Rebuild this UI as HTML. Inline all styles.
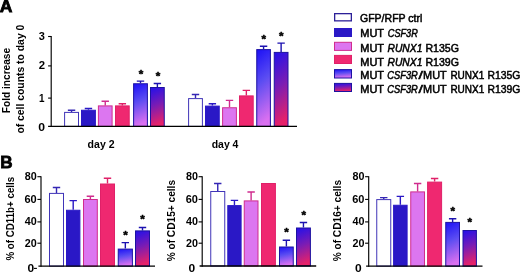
<!DOCTYPE html>
<html><head><meta charset="utf-8"><title>Figure</title>
<style>
html,body{margin:0;padding:0;background:#fff;}
svg{display:block;filter:blur(0.35px);}
text{font-family:"Liberation Sans",sans-serif;fill:#000;}
.b{font-weight:bold;}
.i{font-style:italic;}
.star{font-weight:bold;font-size:11.6px;stroke:#000;stroke-width:0.55px;stroke-linejoin:round;}
.lg{stroke:#000;stroke-width:0.5px;}
.bs{stroke:#000;stroke-width:0.8px;font-weight:bold}
</style></head><body>
<svg width="520" height="272" viewBox="0 0 520 272">
<defs>
<linearGradient id="g5" x1="0" y1="0" x2="0.15" y2="1">
<stop offset="0" stop-color="#1c10f6"/><stop offset="0.45" stop-color="#5a4cf2"/><stop offset="1" stop-color="#da70f0"/></linearGradient>
<linearGradient id="g6" x1="0" y1="0" x2="0.15" y2="1">
<stop offset="0" stop-color="#2210ea"/><stop offset="0.5" stop-color="#7a1cb4"/><stop offset="1" stop-color="#e6226a"/></linearGradient>
</defs>
<rect width="520" height="272" fill="#fff"/>

<path d="M71.55 111.90V110.30M67.85 110.30H75.25" stroke="#3426b4" stroke-width="1.4" fill="none"/>
<rect x="64.60" y="112.40" width="13.90" height="14.00" fill="#ffffff" stroke="#4034b8" stroke-width="1.0"/>
<path d="M88.45 109.75V108.50M84.75 108.50H92.15" stroke="#2a18c6" stroke-width="1.4" fill="none"/>
<rect x="81.50" y="110.25" width="13.90" height="16.15" fill="#2a18c6" stroke="#2a18c6" stroke-width="1.0"/>
<path d="M105.25 105.40V101.25M101.55 101.25H108.95" stroke="#d02c8e" stroke-width="1.4" fill="none"/>
<rect x="98.40" y="105.90" width="13.70" height="20.50" fill="#dc76f0" stroke="#d02c8e" stroke-width="1.0"/>
<path d="M122.35 105.40V103.75M118.65 103.75H126.05" stroke="#e02068" stroke-width="1.4" fill="none"/>
<rect x="115.50" y="105.90" width="13.70" height="20.50" fill="#ef2870" stroke="#e02068" stroke-width="1.0"/>
<path d="M140.50 83.25V81.10M136.80 81.10H144.20" stroke="#1c12b0" stroke-width="1.4" fill="none"/>
<rect x="133.60" y="83.75" width="13.80" height="42.65" fill="url(#g5)" stroke="#1c12a4" stroke-width="1.0"/>
<text x="141.00" y="77.95" class="star" text-anchor="middle">*</text>
<path d="M157.38 87.00V83.50M153.68 83.50H161.07" stroke="#1c12b0" stroke-width="1.4" fill="none"/>
<rect x="150.50" y="87.50" width="13.75" height="38.90" fill="url(#g6)" stroke="#1c12a0" stroke-width="1.0"/>
<text x="158.10" y="80.30" class="star" text-anchor="middle">*</text>
<path d="M195.50 98.10V94.50M191.80 94.50H199.20" stroke="#3426b4" stroke-width="1.4" fill="none"/>
<rect x="188.60" y="98.60" width="13.80" height="27.80" fill="#ffffff" stroke="#4034b8" stroke-width="1.0"/>
<path d="M212.38 105.60V103.75M208.68 103.75H216.07" stroke="#2a18c6" stroke-width="1.4" fill="none"/>
<rect x="205.50" y="106.10" width="13.75" height="20.30" fill="#2a18c6" stroke="#2a18c6" stroke-width="1.0"/>
<path d="M229.50 107.25V100.40M225.80 100.40H233.20" stroke="#d02c8e" stroke-width="1.4" fill="none"/>
<rect x="222.60" y="107.75" width="13.80" height="18.65" fill="#dc76f0" stroke="#d02c8e" stroke-width="1.0"/>
<path d="M246.35 95.40V90.40M242.65 90.40H250.05" stroke="#e02068" stroke-width="1.4" fill="none"/>
<rect x="239.50" y="95.90" width="13.70" height="30.50" fill="#ef2870" stroke="#e02068" stroke-width="1.0"/>
<path d="M263.57 49.10V46.25M259.88 46.25H267.27" stroke="#1c12b0" stroke-width="1.4" fill="none"/>
<rect x="256.75" y="49.60" width="13.65" height="76.80" fill="url(#g5)" stroke="#1c12a4" stroke-width="1.0"/>
<text x="263.75" y="43.45" class="star" text-anchor="middle">*</text>
<path d="M281.12 51.90V43.10M277.43 43.10H284.82" stroke="#1c12b0" stroke-width="1.4" fill="none"/>
<rect x="274.25" y="52.40" width="13.75" height="74.00" fill="url(#g6)" stroke="#1c12a0" stroke-width="1.0"/>
<text x="281.25" y="39.95" class="star" text-anchor="middle">*</text>
<path d="M51.2 36V127.05" stroke="#000" stroke-width="1.15" fill="none"/>
<path d="M48.1 126.40H297" stroke="#000" stroke-width="1.35" fill="none"/>
<path d="M48.1 36.5H51.2" stroke="#000" stroke-width="1.1"/>
<path d="M48.1 65.9H51.2" stroke="#000" stroke-width="1.1"/>
<path d="M48.1 98.1H51.2" stroke="#000" stroke-width="1.1"/>
<text x="38.75" y="40.0" class="b" font-size="11" textLength="6.12" lengthAdjust="spacingAndGlyphs">3</text>
<text x="38.73" y="69.1" class="b" font-size="11" textLength="6.31" lengthAdjust="spacingAndGlyphs">2</text>
<text x="38.92" y="101.6" class="b" font-size="11" textLength="5.51" lengthAdjust="spacingAndGlyphs">1</text>
<text x="38.25" y="131.4" class="b" font-size="11" textLength="6.77" lengthAdjust="spacingAndGlyphs">0</text>
<text transform="translate(9.7 112.5) rotate(-90)" x="-0.72" y="0" class="b" font-size="10.6" textLength="65.35" lengthAdjust="spacingAndGlyphs">Fold increase</text>
<text transform="translate(23.8 133.1) rotate(-90)" x="-0.49" y="0" class="b" font-size="10.6" textLength="108.89" lengthAdjust="spacingAndGlyphs">of cell counts to day 0</text>
<text x="87.60" y="147.5" class="b" font-size="10.6" textLength="26.94" lengthAdjust="spacingAndGlyphs">day 2</text>
<text x="211.71" y="147.5" class="b" font-size="10.6" textLength="26.74" lengthAdjust="spacingAndGlyphs">day 4</text>
<text x="-0.20" y="12.3" class="bs" font-size="17" textLength="12.68" lengthAdjust="spacingAndGlyphs">A</text>
<text x="0.33" y="168.4" class="bs" font-size="16.6" textLength="12.31" lengthAdjust="spacingAndGlyphs">B</text>
<rect x="334.65" y="13.65" width="16.70" height="7.20" fill="#ffffff" stroke="#2c2098" stroke-width="1.3"/>
<rect x="334.50" y="28.50" width="17.00" height="8.00" fill="#2a18c6" stroke="#2a18c6" stroke-width="1.0"/>
<rect x="334.50" y="42.30" width="17.00" height="8.10" fill="#dc76f0" stroke="#d02c8e" stroke-width="1.0"/>
<rect x="334.50" y="55.40" width="17.00" height="8.10" fill="#ef2870" stroke="#e02068" stroke-width="1.0"/>
<rect x="334.50" y="69.60" width="17.00" height="8.40" fill="url(#g5)" stroke="#1c12a4" stroke-width="1.0"/>
<rect x="334.50" y="83.40" width="17.00" height="8.10" fill="url(#g6)" stroke="#1c12a0" stroke-width="1.0"/>
<text x="359.96" y="21.7" class="lg" font-size="10.8" textLength="62.43" lengthAdjust="spacingAndGlyphs">GFP/RFP ctrl</text>
<text x="360.24" y="36.7" class="lg" font-size="10.8" textLength="23.80" lengthAdjust="spacingAndGlyphs">MUT</text>
<text x="387.79" y="36.7" class="lg i" font-size="10.8" textLength="30.05" lengthAdjust="spacingAndGlyphs">CSF3R</text>
<text x="360.24" y="52.3" class="lg" font-size="10.8" textLength="23.80" lengthAdjust="spacingAndGlyphs">MUT</text>
<text x="387.50" y="52.3" class="lg i" font-size="10.8" textLength="34.88" lengthAdjust="spacingAndGlyphs">RUNX1</text>
<text x="425.41" y="52.3" class="lg" font-size="10.8" textLength="33.55" lengthAdjust="spacingAndGlyphs">R135G</text>
<text x="360.24" y="65.8" class="lg" font-size="10.8" textLength="23.80" lengthAdjust="spacingAndGlyphs">MUT</text>
<text x="387.50" y="65.8" class="lg i" font-size="10.8" textLength="34.88" lengthAdjust="spacingAndGlyphs">RUNX1</text>
<text x="425.41" y="65.8" class="lg" font-size="10.8" textLength="33.55" lengthAdjust="spacingAndGlyphs">R139G</text>
<text x="360.24" y="78.9" class="lg" font-size="10.8" textLength="23.80" lengthAdjust="spacingAndGlyphs">MUT</text>
<text x="387.28" y="78.9" class="lg i" font-size="10.8" textLength="30.55" lengthAdjust="spacingAndGlyphs">CSF3R</text>
<text x="418.57" y="78.9" class="lg" font-size="10.8" textLength="4.42" lengthAdjust="spacingAndGlyphs">/</text>
<text x="423.14" y="78.9" class="lg" font-size="10.8" textLength="23.60" lengthAdjust="spacingAndGlyphs">MUT</text>
<text x="450.41" y="78.9" class="lg" font-size="10.8" textLength="33.88" lengthAdjust="spacingAndGlyphs">RUNX1</text>
<text x="487.53" y="78.9" class="lg" font-size="10.8" textLength="32.92" lengthAdjust="spacingAndGlyphs">R135G</text>
<text x="360.24" y="92.5" class="lg" font-size="10.8" textLength="23.80" lengthAdjust="spacingAndGlyphs">MUT</text>
<text x="387.28" y="92.5" class="lg i" font-size="10.8" textLength="30.55" lengthAdjust="spacingAndGlyphs">CSF3R</text>
<text x="418.57" y="92.5" class="lg" font-size="10.8" textLength="4.42" lengthAdjust="spacingAndGlyphs">/</text>
<text x="423.14" y="92.5" class="lg" font-size="10.8" textLength="23.60" lengthAdjust="spacingAndGlyphs">MUT</text>
<text x="450.41" y="92.5" class="lg" font-size="10.8" textLength="33.88" lengthAdjust="spacingAndGlyphs">RUNX1</text>
<text x="487.53" y="92.5" class="lg" font-size="10.8" textLength="32.92" lengthAdjust="spacingAndGlyphs">R139G</text>
<path d="M56.50 192.90V187.50M52.80 187.50H60.20" stroke="#3426b4" stroke-width="1.4" fill="none"/>
<rect x="49.50" y="193.40" width="14.00" height="72.70" fill="#ffffff" stroke="#4034b8" stroke-width="1.0"/>
<path d="M73.20 209.75V200.60M69.50 200.60H76.90" stroke="#2a18c6" stroke-width="1.4" fill="none"/>
<rect x="66.50" y="210.25" width="13.40" height="55.85" fill="#2a18c6" stroke="#2a18c6" stroke-width="1.0"/>
<path d="M90.40 199.00V196.25M86.70 196.25H94.10" stroke="#d02c8e" stroke-width="1.4" fill="none"/>
<rect x="83.50" y="199.50" width="13.80" height="66.60" fill="#dc76f0" stroke="#d02c8e" stroke-width="1.0"/>
<path d="M107.50 183.50V178.25M103.80 178.25H111.20" stroke="#e02068" stroke-width="1.4" fill="none"/>
<rect x="100.50" y="184.00" width="14.00" height="82.10" fill="#ef2870" stroke="#e02068" stroke-width="1.0"/>
<path d="M125.33 248.60V242.60M121.62 242.60H129.03" stroke="#1c12b0" stroke-width="1.4" fill="none"/>
<rect x="118.25" y="249.10" width="14.15" height="17.00" fill="url(#g5)" stroke="#1c12a4" stroke-width="1.0"/>
<text x="125.40" y="238.80" class="star" text-anchor="middle">*</text>
<path d="M142.50 230.40V227.50M138.80 227.50H146.20" stroke="#1c12b0" stroke-width="1.4" fill="none"/>
<rect x="135.50" y="230.90" width="14.00" height="35.20" fill="url(#g6)" stroke="#1c12a0" stroke-width="1.0"/>
<text x="142.50" y="223.45" class="star" text-anchor="middle">*</text>
<path d="M41.0 176.20V266.75" stroke="#000" stroke-width="1.15" fill="none"/>
<path d="M38.40 266.10H155" stroke="#000" stroke-width="1.35" fill="none"/>
<path d="M37.40 176.7H41.0" stroke="#000" stroke-width="1.1"/>
<text x="24.75" y="180.0" class="b" font-size="10.8" textLength="11.96" lengthAdjust="spacingAndGlyphs">80</text>
<path d="M37.40 199.4H41.0" stroke="#000" stroke-width="1.1"/>
<text x="24.48" y="202.70000000000002" class="b" font-size="10.8" textLength="12.25" lengthAdjust="spacingAndGlyphs">60</text>
<path d="M37.40 221.9H41.0" stroke="#000" stroke-width="1.1"/>
<text x="24.75" y="225.20000000000002" class="b" font-size="10.8" textLength="11.96" lengthAdjust="spacingAndGlyphs">40</text>
<path d="M37.40 243.2H41.0" stroke="#000" stroke-width="1.1"/>
<text x="24.75" y="246.5" class="b" font-size="10.8" textLength="11.96" lengthAdjust="spacingAndGlyphs">20</text>
<text x="27.44" y="272.1" class="b" font-size="10.8" textLength="6.68" lengthAdjust="spacingAndGlyphs">0</text>
<path d="M34.00 268.4H36.90" stroke="#000" stroke-width="1.1"/>
<text transform="translate(13.9 260.3) rotate(-90)" x="-0.23" y="0" class="b" font-size="10.6" textLength="83.66" lengthAdjust="spacingAndGlyphs">% of CD11b+ cells</text>
<path d="M217.75 191.00V183.50M214.05 183.50H221.45" stroke="#3426b4" stroke-width="1.4" fill="none"/>
<rect x="210.75" y="191.50" width="14.00" height="74.50" fill="#ffffff" stroke="#4034b8" stroke-width="1.0"/>
<path d="M234.45 205.10V200.40M230.75 200.40H238.15" stroke="#2a18c6" stroke-width="1.4" fill="none"/>
<rect x="227.80" y="205.60" width="13.30" height="60.40" fill="#2a18c6" stroke="#2a18c6" stroke-width="1.0"/>
<path d="M251.12 200.40V192.00M247.43 192.00H254.82" stroke="#d02c8e" stroke-width="1.4" fill="none"/>
<rect x="244.25" y="200.90" width="13.75" height="65.10" fill="#dc76f0" stroke="#d02c8e" stroke-width="1.0"/>
<rect x="261.50" y="183.50" width="13.90" height="82.50" fill="#ef2870" stroke="#e02068" stroke-width="1.0"/>
<path d="M286.38 246.50V240.25M282.68 240.25H290.07" stroke="#1c12b0" stroke-width="1.4" fill="none"/>
<rect x="279.50" y="247.00" width="13.75" height="19.00" fill="url(#g5)" stroke="#1c12a4" stroke-width="1.0"/>
<text x="286.50" y="236.30" class="star" text-anchor="middle">*</text>
<path d="M303.45 227.50V222.50M299.75 222.50H307.15" stroke="#1c12b0" stroke-width="1.4" fill="none"/>
<rect x="296.50" y="228.00" width="13.90" height="38.00" fill="url(#g6)" stroke="#1c12a0" stroke-width="1.0"/>
<text x="303.75" y="219.10" class="star" text-anchor="middle">*</text>
<path d="M202.2 176.20V266.65" stroke="#000" stroke-width="1.15" fill="none"/>
<path d="M199.60 266.00H316.2" stroke="#000" stroke-width="1.35" fill="none"/>
<path d="M198.60 176.7H202.2" stroke="#000" stroke-width="1.1"/>
<text x="185.95" y="180.0" class="b" font-size="10.8" textLength="11.96" lengthAdjust="spacingAndGlyphs">80</text>
<path d="M198.60 199.4H202.2" stroke="#000" stroke-width="1.1"/>
<text x="185.68" y="202.70000000000002" class="b" font-size="10.8" textLength="12.25" lengthAdjust="spacingAndGlyphs">60</text>
<path d="M198.60 221.9H202.2" stroke="#000" stroke-width="1.1"/>
<text x="185.95" y="225.20000000000002" class="b" font-size="10.8" textLength="11.96" lengthAdjust="spacingAndGlyphs">40</text>
<path d="M198.60 243.2H202.2" stroke="#000" stroke-width="1.1"/>
<text x="185.95" y="246.5" class="b" font-size="10.8" textLength="11.96" lengthAdjust="spacingAndGlyphs">20</text>
<text x="188.64" y="272.1" class="b" font-size="10.8" textLength="6.68" lengthAdjust="spacingAndGlyphs">0</text>
<text transform="translate(175.3 261.1) rotate(-90)" x="-0.24" y="0" class="b" font-size="10.6" textLength="81.37" lengthAdjust="spacingAndGlyphs">% of CD15+ cells</text>
<path d="M383.75 199.10V197.60M380.05 197.60H387.45" stroke="#3426b4" stroke-width="1.4" fill="none"/>
<rect x="376.75" y="199.60" width="14.00" height="66.50" fill="#ffffff" stroke="#4034b8" stroke-width="1.0"/>
<path d="M400.35 204.75V196.40M396.65 196.40H404.05" stroke="#2a18c6" stroke-width="1.4" fill="none"/>
<rect x="393.60" y="205.25" width="13.50" height="60.85" fill="#2a18c6" stroke="#2a18c6" stroke-width="1.0"/>
<path d="M417.62 191.40V183.50M413.93 183.50H421.32" stroke="#d02c8e" stroke-width="1.4" fill="none"/>
<rect x="410.75" y="191.90" width="13.75" height="74.20" fill="#dc76f0" stroke="#d02c8e" stroke-width="1.0"/>
<path d="M434.60 181.60V178.50M430.90 178.50H438.30" stroke="#e02068" stroke-width="1.4" fill="none"/>
<rect x="427.60" y="182.10" width="14.00" height="84.00" fill="#ef2870" stroke="#e02068" stroke-width="1.0"/>
<path d="M452.62 221.90V218.75M448.93 218.75H456.32" stroke="#1c12b0" stroke-width="1.4" fill="none"/>
<rect x="445.75" y="222.40" width="13.75" height="43.70" fill="url(#g5)" stroke="#1c12a4" stroke-width="1.0"/>
<text x="452.75" y="214.95" class="star" text-anchor="middle">*</text>
<rect x="463.00" y="230.50" width="13.40" height="35.60" fill="url(#g6)" stroke="#1c12a0" stroke-width="1.0"/>
<text x="469.75" y="225.80" class="star" text-anchor="middle">*</text>
<path d="M368.7 176.20V266.75" stroke="#000" stroke-width="1.15" fill="none"/>
<path d="M366.10 266.10H482.5" stroke="#000" stroke-width="1.35" fill="none"/>
<path d="M365.10 176.7H368.7" stroke="#000" stroke-width="1.1"/>
<text x="352.45" y="180.0" class="b" font-size="10.8" textLength="11.96" lengthAdjust="spacingAndGlyphs">80</text>
<path d="M365.10 199.4H368.7" stroke="#000" stroke-width="1.1"/>
<text x="352.18" y="202.70000000000002" class="b" font-size="10.8" textLength="12.25" lengthAdjust="spacingAndGlyphs">60</text>
<path d="M365.10 221.9H368.7" stroke="#000" stroke-width="1.1"/>
<text x="352.45" y="225.20000000000002" class="b" font-size="10.8" textLength="11.96" lengthAdjust="spacingAndGlyphs">40</text>
<path d="M365.10 243.2H368.7" stroke="#000" stroke-width="1.1"/>
<text x="352.45" y="246.5" class="b" font-size="10.8" textLength="11.96" lengthAdjust="spacingAndGlyphs">20</text>
<text x="355.14" y="272.1" class="b" font-size="10.8" textLength="6.68" lengthAdjust="spacingAndGlyphs">0</text>
<text transform="translate(340.9 261.1) rotate(-90)" x="-0.24" y="0" class="b" font-size="10.6" textLength="81.37" lengthAdjust="spacingAndGlyphs">% of CD16+ cells</text>
</svg></body></html>
